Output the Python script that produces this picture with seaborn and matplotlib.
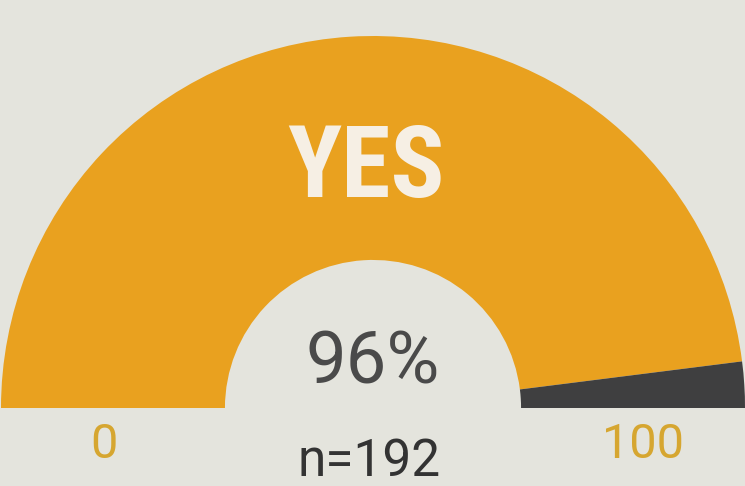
import matplotlib
matplotlib.use("Agg")
import matplotlib.pyplot as plt
import seaborn as sns

# Data
segment_labels = ["Yes", "No", "hidden"]
segment_values = [96, 4, 100]          # last one is the invisible lower half
title_text = "YES"
value_text = "96%"
n_text = "n=192"
scale_labels = ["0", "100"]

BG = "#e4e4dd"
ORANGE = "#e9a11f"
DARK = "#3f3f40"

sns.set_theme(style="white", rc={"figure.facecolor": BG, "axes.facecolor": BG})
plt.rcParams["font.family"] = ["Roboto", "DejaVu Sans"]

fig = plt.figure(figsize=(7.45, 4.86), dpi=100)
ax = fig.add_axes([0, 0, 1, 1])
ax.set_facecolor(BG)

colors = [ORANGE, DARK, BG]
wedges, _ = ax.pie(segment_values, colors=colors, startangle=180, counterclock=False,
                   radius=1.0, wedgeprops=dict(width=0.602, linewidth=0))
wedges[2].set_visible(False)

ax.set_xlim(-373 / 372, 372 / 372)
ax.set_ylim(-78 / 372, 408 / 372)
ax.set_aspect("auto")
ax.axis("off")

ax.text(-0.02, 0.567, title_text, ha="center", va="baseline", fontsize=72,
        fontweight="bold", color="#f6efe4",
        family=["Roboto Condensed", "Roboto"])
ax.text(0.0, 0.118, value_text, ha="center", va="center", fontsize=52,
        color="#4a4a4a")
ax.text(-0.01, -0.145, n_text, ha="center", va="center", fontsize=37,
        color="#333333")
ax.text(-0.722, -0.10, scale_labels[0], ha="center", va="center", fontsize=35,
        color="#d6a630")
ax.text(0.726, -0.10, scale_labels[1], ha="center", va="center", fontsize=35,
        color="#d6a630")

fig.savefig("out.png", dpi=100, facecolor=BG)
